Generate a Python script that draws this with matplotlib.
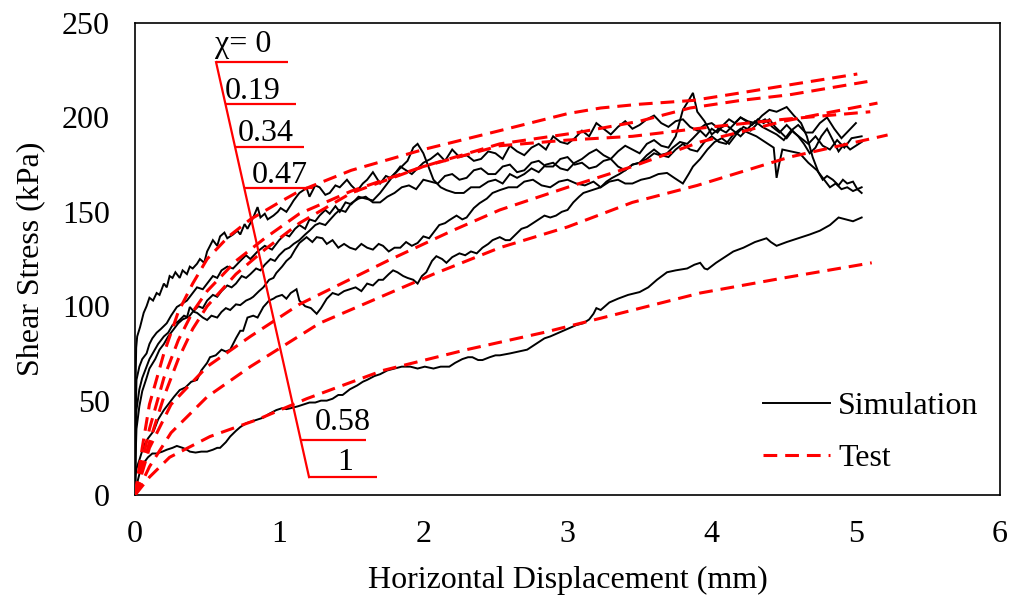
import matplotlib
matplotlib.use("Agg")
import matplotlib.pyplot as plt
import numpy as np

plt.rcParams['font.family'] = ['Liberation Serif', 'DejaVu Serif']
plt.rcParams['mathtext.fontset'] = 'stix'

# ---------------- data ----------------
x_ticks = [0, 1, 2, 3, 4, 5, 6]
y_ticks = [0, 50, 100, 150, 200, 250]
chi_labels = ["\u03c7= 0", "0.19", "0.34", "0.47", "0.58", "1"]

# Test (smooth, dashed) curves
test_chi0 = [(0, 0), (0.05, 25), (0.1, 48), (0.2, 75), (0.3, 97), (0.4, 112), (0.5, 125), (0.65, 137),
             (0.8, 146), (1.0, 155), (1.14, 161), (1.5, 172), (2.0, 183), (2.53, 193), (3.0, 202),
             (3.23, 205), (3.5, 207), (3.87, 209), (4.2, 213), (4.6, 218), (5.01, 223)]
test_chi019 = [(0, 0), (0.05, 18), (0.1, 35), (0.2, 62), (0.3, 82), (0.4, 97), (0.5, 108), (0.7, 124),
               (0.9, 136), (1.14, 149), (1.5, 161), (2.0, 174), (2.53, 186), (3.07, 192), (3.5, 198),
               (3.85, 205), (4.2, 209), (4.54, 212), (5.08, 219)]
test_chi034 = [(0, 0), (0.05, 14), (0.1, 28), (0.2, 52), (0.3, 72), (0.4, 88), (0.5, 100), (0.7, 117),
               (0.9, 130), (1.14, 144), (1.5, 160), (2.0, 174), (2.53, 185), (3.0, 188), (3.45, 190),
               (4.0, 195), (4.5, 199), (5.1, 203)]
test_chi047 = [(0, 0), (0.05, 12), (0.1, 25), (0.25, 48), (0.5, 68), (0.8, 84), (1.14, 101), (1.75, 124),
               (2.2, 140), (2.53, 151), (3.0, 163), (3.45, 174), (3.92, 187), (4.5, 198), (5.15, 207.6)]
test_chi058 = [(0, 0), (0.05, 7), (0.1, 15), (0.25, 33), (0.5, 52), (0.8, 68), (1.28, 91), (2.07, 117),
               (2.53, 131), (3.0, 142), (3.45, 155), (3.9, 164), (4.54, 179), (5.22, 190.7)]
test_chi1 = [(0, 0), (0.1, 9.5), (0.24, 20), (0.52, 31), (0.85, 40), (1.19, 51), (1.72, 66), (2.3, 77),
             (2.83, 86), (3.3, 95), (3.92, 107), (4.5, 115), (5.11, 123)]

# Simulation (jagged, solid) curves
sim_a = [(0, 0), (0.003, 55), (0.008, 78), (0.015, 84), (0.035, 89), (0.06, 96.5), (0.08, 100), (0.1, 104.5),
         (0.125, 103), (0.15, 107), (0.17, 106), (0.2, 112), (0.22, 110), (0.24, 116), (0.26, 115), (0.28, 118),
         (0.31, 115), (0.33, 119), (0.36, 117), (0.38, 121), (0.4, 120), (0.43, 122.5), (0.45, 125), (0.48, 123),
         (0.5, 129), (0.54, 135), (0.57, 132), (0.59, 137), (0.62, 139), (0.64, 136), (0.68, 138), (0.71, 140),
         (0.73, 138), (0.76, 143.5), (0.78, 141), (0.82, 147), (0.85, 152.5), (0.87, 147), (0.9, 149), (0.92, 146),
         (0.96, 148), (0.99, 150), (1.01, 152), (1.05, 150), (1.08, 153.5), (1.1, 156), (1.14, 160), (1.19, 162.6),
         (1.21, 158), (1.25, 164), (1.28, 163), (1.32, 159), (1.35, 160), (1.39, 164), (1.42, 163), (1.47, 167),
         (1.5, 164), (1.54, 161), (1.58, 165), (1.61, 167), (1.65, 171), (1.7, 165), (1.74, 169), (1.77, 168),
         (1.81, 171), (1.84, 174), (1.88, 172), (1.92, 170), (1.96, 173), (2.0, 176), (2.05, 178), (2.1, 181),
         (2.15, 177), (2.2, 183), (2.25, 179), (2.3, 180), (2.35, 177), (2.4, 178), (2.45, 182), (2.5, 181),
         (2.55, 178), (2.6, 185), (2.65, 182), (2.7, 180), (2.75, 184), (2.8, 186), (2.85, 183), (2.9, 190),
         (2.95, 187), (3.0, 186), (3.05, 189), (3.1, 193), (3.15, 190), (3.2, 197), (3.25, 194), (3.3, 191),
         (3.35, 195), (3.4, 198), (3.45, 194), (3.5, 196), (3.55, 199), (3.6, 201), (3.65, 197), (3.7, 195),
         (3.75, 198), (3.8, 199), (3.85, 195), (3.9, 193), (3.95, 196), (4.0, 197), (4.05, 194), (4.1, 192),
         (4.15, 196), (4.2, 200), (4.25, 198), (4.3, 197), (4.35, 201), (4.4, 204), (4.45, 203), (4.52, 205.5),
         (4.57, 201), (4.62, 197), (4.66, 190), (4.7, 179), (4.74, 171), (4.77, 167), (4.8, 169), (4.84, 167),
         (4.88, 164), (4.91, 167), (4.94, 165), (4.98, 166), (5.01, 162), (5.04, 163)]

sim_b = [(0, 0), (0.004, 40), (0.01, 61), (0.03, 68), (0.05, 72), (0.08, 75), (0.1, 80), (0.12, 83), (0.15, 86),
         (0.18, 88), (0.22, 91), (0.25, 95), (0.29, 99.6), (0.32, 101), (0.36, 103), (0.4, 107), (0.43, 110),
         (0.47, 109), (0.5, 112), (0.54, 116), (0.57, 115), (0.6, 119), (0.64, 121), (0.68, 120), (0.73, 124),
         (0.77, 127), (0.8, 125), (0.85, 129), (0.9, 132), (0.95, 130), (1.0, 135), (1.04, 138), (1.07, 137),
         (1.11, 141), (1.14, 143), (1.18, 141), (1.21, 146), (1.25, 145), (1.28, 148), (1.32, 151), (1.35, 149),
         (1.39, 153), (1.42, 150), (1.46, 155), (1.5, 154), (1.55, 158), (1.6, 157), (1.65, 156), (1.7, 160),
         (1.75, 165), (1.8, 170), (1.85, 174), (1.89, 177), (1.93, 184), (1.96, 186), (2.0, 181), (2.02, 177),
         (2.07, 167), (2.12, 163), (2.16, 161.5), (2.22, 160), (2.28, 160), (2.33, 163), (2.39, 163), (2.45, 166),
         (2.5, 167), (2.55, 165), (2.6, 170), (2.65, 168), (2.7, 170), (2.75, 173), (2.8, 171), (2.85, 175),
         (2.9, 176), (2.95, 173), (3.0, 172), (3.05, 176), (3.1, 178), (3.15, 181), (3.2, 183), (3.25, 180),
         (3.3, 178), (3.35, 182), (3.4, 185), (3.45, 183), (3.5, 181), (3.55, 186), (3.6, 188), (3.65, 185),
         (3.7, 184), (3.75, 190), (3.8, 204), (3.84, 209), (3.87, 213), (3.9, 203), (3.95, 198), (4.0, 191),
         (4.05, 194), (4.1, 196), (4.15, 193), (4.2, 190), (4.25, 194), (4.3, 198), (4.35, 195), (4.4, 193),
         (4.45, 191), (4.5, 188), (4.55, 193), (4.6, 196), (4.65, 192), (4.7, 192), (4.75, 197), (4.8, 200),
         (4.85, 194), (4.9, 189), (4.95, 193), (5.0, 197)]

sim_c = [(0, 0), (0.004, 20), (0.01, 35), (0.03, 47), (0.05, 55), (0.08, 62), (0.1, 67), (0.14, 72), (0.17, 77),
         (0.2, 80), (0.23, 84), (0.26, 87), (0.3, 91), (0.33, 93), (0.36, 94), (0.38, 99.6), (0.41, 97),
         (0.43, 96.5), (0.47, 94), (0.5, 92.7), (0.53, 95), (0.57, 94), (0.6, 97), (0.63, 99), (0.66, 98),
         (0.7, 101), (0.73, 100.6), (0.77, 103), (0.8, 104), (0.82, 105), (0.86, 108), (0.89, 110), (0.93, 114),
         (0.96, 115), (0.98, 117.6), (1.02, 121), (1.05, 124), (1.08, 126), (1.11, 130), (1.14, 133.5),
         (1.19, 136.6), (1.23, 134), (1.26, 136.6), (1.3, 136), (1.33, 133), (1.37, 135), (1.41, 131), (1.45, 133),
         (1.49, 131), (1.53, 130), (1.57, 133), (1.61, 131), (1.65, 130), (1.69, 133), (1.72, 132), (1.76, 129),
         (1.8, 131), (1.84, 131), (1.88, 134), (1.92, 132), (1.96, 133.5), (2.0, 137), (2.04, 136), (2.07, 139),
         (2.11, 143), (2.15, 144), (2.18, 145.6), (2.23, 148), (2.27, 146), (2.3, 147), (2.35, 152), (2.39, 154.6),
         (2.44, 157), (2.48, 160), (2.53, 161.5), (2.59, 163), (2.65, 163), (2.7, 166), (2.76, 167), (2.82, 164),
         (2.88, 163), (2.94, 166), (3.0, 167), (3.06, 165), (3.12, 164), (3.18, 166), (3.23, 163), (3.29, 166),
         (3.35, 167), (3.4, 165), (3.45, 165), (3.51, 167), (3.57, 168), (3.63, 170), (3.69, 170.6), (3.74, 168),
         (3.8, 165), (3.84, 170), (3.87, 174), (3.92, 178), (3.97, 183), (4.02, 187), (4.07, 189), (4.12, 186),
         (4.17, 191), (4.22, 195), (4.27, 193), (4.32, 197), (4.37, 199), (4.42, 195), (4.47, 192), (4.52, 196),
         (4.57, 192), (4.62, 189), (4.67, 186), (4.72, 190), (4.77, 185), (4.82, 183), (4.87, 188), (4.92, 184),
         (4.97, 189), (5.04, 190)]

sim_d = [(0, 0), (0.003, 10), (0.01, 14), (0.03, 18.5), (0.06, 26), (0.09, 30), (0.13, 34), (0.16, 40), (0.2, 45),
         (0.24, 49), (0.27, 52), (0.31, 55.6), (0.35, 57), (0.39, 60), (0.43, 61), (0.46, 66), (0.5, 70),
         (0.52, 73), (0.56, 74), (0.6, 77), (0.63, 76), (0.66, 77), (0.7, 83), (0.73, 87), (0.75, 87), (0.78, 94),
         (0.82, 95), (0.85, 94), (0.89, 99.6), (0.93, 103), (0.96, 104), (0.98, 105), (1.02, 106), (1.05, 104),
         (1.08, 107), (1.12, 109), (1.14, 103), (1.18, 100), (1.22, 99), (1.26, 96), (1.29, 99), (1.33, 104),
         (1.37, 107), (1.41, 106), (1.45, 108), (1.49, 109), (1.53, 110), (1.57, 108), (1.61, 112), (1.65, 111),
         (1.69, 114), (1.72, 114), (1.76, 117), (1.79, 119), (1.82, 118), (1.86, 116), (1.89, 115), (1.93, 114),
         (1.96, 112), (1.99, 116), (2.02, 118), (2.06, 124), (2.09, 126.5), (2.13, 125), (2.16, 123), (2.2, 126),
         (2.25, 128), (2.29, 127), (2.33, 129), (2.37, 128), (2.41, 131), (2.45, 133), (2.48, 135), (2.53, 136.6),
         (2.57, 135), (2.6, 135), (2.64, 138), (2.68, 141), (2.72, 142), (2.76, 144), (2.8, 146), (2.84, 148),
         (2.88, 147), (2.92, 148), (2.96, 150), (3.0, 151), (3.04, 155), (3.08, 158), (3.11, 160), (3.15, 161),
         (3.19, 162), (3.23, 163), (3.27, 166), (3.31, 168), (3.36, 170), (3.4, 172), (3.45, 175), (3.5, 176),
         (3.55, 178), (3.6, 181), (3.64, 180), (3.69, 181), (3.73, 184), (3.78, 187), (3.83, 186), (3.87, 189),
         (3.92, 193), (3.96, 190), (4.0, 194), (4.04, 192), (4.08, 196), (4.12, 199), (4.16, 197), (4.2, 200),
         (4.24, 198), (4.28, 196), (4.32, 199), (4.36, 197), (4.4, 199), (4.44, 195), (4.48, 192), (4.52, 189),
         (4.56, 193), (4.6, 190), (4.64, 186), (4.68, 181), (4.72, 184), (4.76, 190), (4.8, 194), (4.84, 188),
         (4.88, 182), (4.92, 186), (4.96, 183), (5.0, 185), (5.04, 187)]

sim_e = [(0, 0), (0.02, 8), (0.04, 14), (0.06, 17), (0.09, 20), (0.12, 22), (0.15, 22), (0.19, 23), (0.22, 24),
         (0.26, 25), (0.29, 26), (0.33, 25), (0.36, 24), (0.38, 23), (0.42, 22.5), (0.46, 23), (0.5, 23),
         (0.54, 24), (0.57, 25), (0.59, 25), (0.63, 28), (0.66, 31), (0.7, 34), (0.73, 36), (0.77, 38), (0.81, 39),
         (0.85, 40), (0.89, 41), (0.93, 43), (0.98, 45), (1.02, 46), (1.05, 45.5), (1.08, 46), (1.13, 47),
         (1.17, 48), (1.21, 49), (1.25, 49), (1.29, 50), (1.33, 50), (1.37, 51), (1.41, 53), (1.44, 53), (1.49, 56),
         (1.54, 58), (1.58, 60), (1.61, 61), (1.66, 63), (1.7, 64), (1.75, 66), (1.8, 67), (1.85, 68), (1.91, 68),
         (1.96, 67), (2.01, 68), (2.07, 67), (2.12, 68), (2.18, 68), (2.22, 70), (2.27, 72), (2.31, 73),
         (2.34, 73), (2.38, 71.5), (2.41, 71.5), (2.46, 73), (2.5, 74), (2.53, 74), (2.6, 75), (2.66, 76),
         (2.72, 77), (2.78, 80), (2.84, 83), (2.88, 84), (2.94, 86), (3.0, 88), (3.06, 90), (3.11, 91), (3.15, 93),
         (3.18, 96), (3.2, 99), (3.23, 98), (3.29, 102), (3.35, 104), (3.42, 106), (3.5, 107.5), (3.56, 110),
         (3.62, 114), (3.69, 118), (3.75, 119), (3.83, 120), (3.88, 122), (3.92, 123), (3.95, 120), (3.97, 119.5),
         (4.03, 123), (4.09, 126), (4.15, 129), (4.22, 131), (4.3, 134), (4.38, 136), (4.41, 134), (4.45, 132),
         (4.52, 134), (4.6, 136), (4.68, 138), (4.75, 140), (4.82, 143), (4.88, 147), (4.93, 146), (4.98, 145),
         (5.04, 147)]

sim_f = [(0, 0), (0.004, 30), (0.01, 45), (0.03, 56), (0.05, 62), (0.08, 68), (0.1, 72), (0.13, 76), (0.16, 80),
         (0.2, 84), (0.23, 86), (0.26, 90), (0.3, 92), (0.34, 95), (0.37, 94), (0.4, 97), (0.44, 100), (0.47, 99),
         (0.5, 103), (0.54, 106), (0.57, 105), (0.6, 108), (0.64, 111), (0.67, 110), (0.7, 112), (0.74, 116),
         (0.77, 115), (0.8, 117), (0.84, 120), (0.87, 119), (0.9, 122), (0.94, 125), (0.97, 124), (1.0, 127),
         (1.04, 130), (1.07, 131), (1.1, 133), (1.14, 135), (1.18, 138), (1.21, 140), (1.25, 143), (1.28, 144),
         (1.32, 143), (1.35, 145.6), (1.39, 149), (1.42, 151), (1.46, 150), (1.5, 154.6), (1.55, 157), (1.6, 158),
         (1.65, 155), (1.7, 155), (1.75, 158), (1.8, 160), (1.85, 163), (1.9, 164), (1.95, 162), (2.0, 167),
         (2.05, 166), (2.1, 165), (2.15, 169), (2.2, 170), (2.25, 167), (2.3, 168), (2.35, 172), (2.4, 173),
         (2.45, 170), (2.5, 170), (2.55, 174), (2.6, 175), (2.65, 171), (2.7, 172), (2.75, 176), (2.8, 177),
         (2.85, 174), (2.9, 174), (2.95, 178), (3.0, 179), (3.05, 175), (3.1, 176), (3.15, 173), (3.2, 174),
         (3.25, 177), (3.3, 178), (3.35, 174), (3.4, 172), (3.45, 175), (3.5, 176), (3.55, 180), (3.6, 183),
         (3.65, 180), (3.7, 179), (3.75, 183), (3.8, 186), (3.85, 183), (3.9, 182), (3.95, 187), (4.0, 190),
         (4.05, 187), (4.1, 186), (4.15, 191), (4.2, 194), (4.25, 192), (4.31, 190), (4.37, 187), (4.43, 184),
         (4.45, 168), (4.47, 176), (4.49, 183), (4.55, 182), (4.61, 181), (4.67, 176), (4.73, 172), (4.78, 167),
         (4.82, 163), (4.86, 165), (4.9, 162), (4.94, 163), (4.98, 161), (5.01, 162), (5.04, 160)]

sim_curves = [sim_a, sim_b, sim_f, sim_c, sim_d, sim_e]
test_curves = [test_chi0, test_chi019, test_chi034, test_chi047, test_chi058, test_chi1]

# annotation guide (data units): slanted line end points and tick levels
guide_top = (0.562, 229.3)
guide_bottom = (1.207, 9.5)
guide_levels = [229.3, 207.1, 184.3, 162.6, 29.1, 9.5]
guide_tick_ends = [1.061, 1.117, 1.172, 1.235, 1.602, 1.679]
label_pos = [(0.555, 234.6), (0.624, 209.7), (0.714, 187.5), (0.812, 165.2), (1.249, 34.4), (1.40, 13.2)]

# ---------------- figure ----------------
fig = plt.figure(figsize=(10.16, 5.95), dpi=100)
ax = fig.add_axes([0.1329, 0.168, 0.8514, 0.7933])

FS = 23

for i, c in enumerate(sim_curves):
    xs, ys = zip(*c)
    ax.plot(xs, ys, color='black', lw=1.4, solid_joinstyle='miter',
            label='Simulation' if i == 0 else None, zorder=2)

for i, c in enumerate(test_curves):
    xs, ys = zip(*c)
    ax.plot(xs, ys, color='#ff0000', lw=2.2, dashes=(4.5, 2.6),
            label='Test' if i == 0 else None, zorder=3)

# slanted guide with horizontal ticks
ax.plot([guide_top[0], guide_bottom[0]], [guide_top[1], guide_bottom[1]], color='#ff0000', lw=1.6, zorder=4)
for lev, xe in zip(guide_levels, guide_tick_ends):
    t = (guide_top[1] - lev) / (guide_top[1] - guide_bottom[1])
    xs = guide_top[0] + t * (guide_bottom[0] - guide_top[0])
    ax.plot([xs, xe], [lev, lev], color='#ff0000', lw=1.6, zorder=4, solid_capstyle='butt')
for lab, (lx, ly) in zip(chi_labels, label_pos):
    ax.text(lx, ly, lab, fontsize=FS, ha='left', va='baseline', color='black', zorder=5)

ax.set_xlim(0, 6)
ax.set_ylim(0, 250)
ax.set_xticks(x_ticks)
ax.set_yticks(y_ticks)
ax.tick_params(axis='both', length=0, labelsize=FS)
ax.tick_params(axis='y', pad=18)
ax.tick_params(axis='x', pad=18)
for s in ax.spines.values():
    s.set_linewidth(1.2)
    s.set_color('black')

ax.set_xlabel('Horizontal Displacement (mm)', fontsize=FS, labelpad=12)
ax.set_ylabel('Shear Stress (kPa)', fontsize=FS, labelpad=12)

leg = ax.legend(loc='center left', bbox_to_anchor=(0.726, 0.133), frameon=False, fontsize=FS,
                handlelength=2.1, handletextpad=0.25, labelspacing=0.72, borderpad=0, borderaxespad=0)

fig.savefig('out.png', dpi=100)
